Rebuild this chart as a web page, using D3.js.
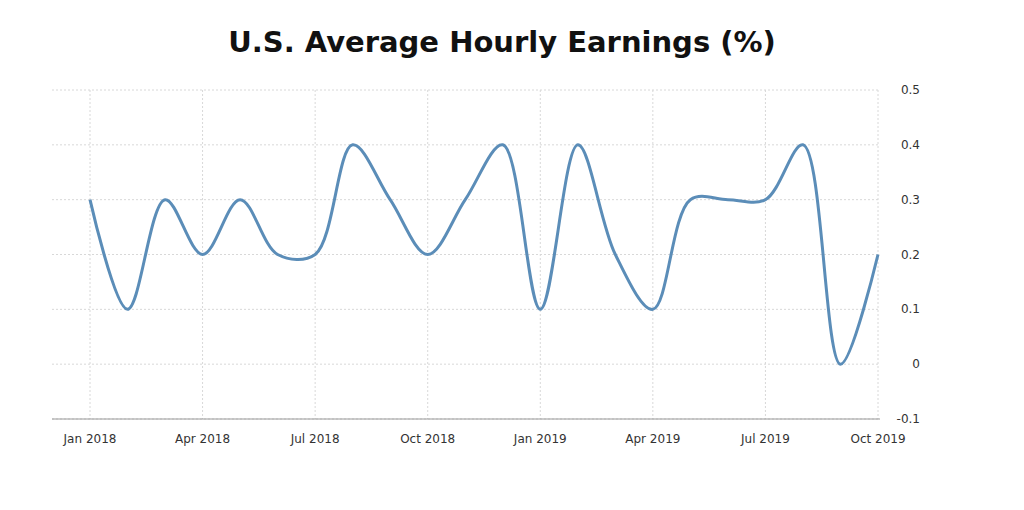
<!DOCTYPE html>
<html><head><meta charset="utf-8">
<script src="https://cdn.jsdelivr.net/npm/d3@7"></script>
<style>body{margin:0;background:#fff}</style>
</head><body>
<svg id="chart" width="1024" height="510"></svg>
<script>
const months = ["Jan 2018","Feb 2018","Mar 2018","Apr 2018","May 2018","Jun 2018","Jul 2018","Aug 2018","Sep 2018","Oct 2018","Nov 2018","Dec 2018",
  "Jan 2019","Feb 2019","Mar 2019","Apr 2019","May 2019","Jun 2019","Jul 2019","Aug 2019","Sep 2019","Oct 2019"];
const values = [0.3,0.1,0.3,0.2,0.3,0.2,0.2,0.4,0.3,0.2,0.3,0.4,0.1,0.4,0.2,0.1,0.3,0.3,0.3,0.4,0.0,0.2];
const xTickLabels = ["Jan 2018","Apr 2018","Jul 2018","Oct 2018","Jan 2019","Apr 2019","Jul 2019","Oct 2019"];
const yTicks = [-0.1,0,0.1,0.2,0.3,0.4,0.5];

let svg = d3.select("#chart");
let font = "Tahoma, 'DejaVu Sans', sans-serif";

let x = d3.scalePoint().domain(months).range([90, 878]);
let y = d3.scaleLinear().domain([-0.1, 0.5]).range([419, 90]);

svg.append("text")
  .attr("x", 502).attr("y", 52)
  .text("U.S. Average Hourly Earnings (%)")
  .style("text-anchor", "middle")
  .style("font-family", font)
  .style("font-weight", "bold")
  .style("font-size", "29px")
  .style("fill", "#111");

// horizontal grid
svg.selectAll(".hgrid").data(yTicks).enter().append("line")
  .attr("x1", 52).attr("x2", 880)
  .attr("y1", d => y(d)).attr("y2", d => y(d))
  .style("stroke", "#d8d8d8").style("stroke-dasharray", "2,2");

// vertical grid
svg.selectAll(".vgrid").data(xTickLabels).enter().append("line")
  .attr("x1", d => x(d)).attr("x2", d => x(d))
  .attr("y1", 90).attr("y2", 419)
  .style("stroke", "#d8d8d8").style("stroke-dasharray", "2,2");

// bottom axis line
svg.append("line").attr("x1", 52).attr("x2", 880).attr("y1", 419).attr("y2", 419)
  .style("stroke", "#999");

// y labels
svg.selectAll(".ylab").data(yTicks).enter().append("text")
  .attr("x", 920).attr("y", d => y(d) + 4)
  .text(d => d)
  .style("text-anchor", "end")
  .style("font-family", font).style("font-size", "12px").style("fill", "#333");

// x labels
svg.selectAll(".xlab").data(xTickLabels).enter().append("text")
  .attr("x", d => x(d)).attr("y", 443)
  .text(d => d)
  .style("text-anchor", "middle")
  .style("font-family", font).style("font-size", "12px").style("fill", "#333");

let line = d3.line()
  .x((d, i) => x(months[i]))
  .y(d => y(d))
  .curve(d3.curveCatmullRom.alpha(0.5));

svg.append("path").datum(values)
  .attr("d", line)
  .style("fill", "none")
  .style("stroke", "#5b8db8")
  .style("stroke-width", "3px");
</script>
</body></html>
